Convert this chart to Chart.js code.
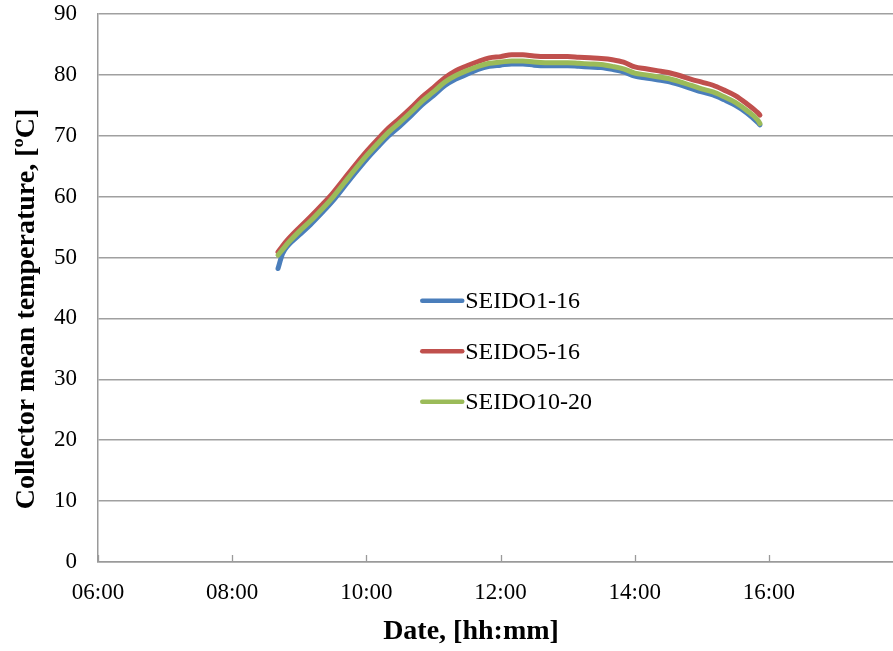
<!DOCTYPE html>
<html>
<head>
<meta charset="utf-8">
<script src="https://cdn.jsdelivr.net/npm/chart.js@4/dist/chart.umd.min.js"></script>
<style>
  html, body { margin: 0; padding: 0; background: #ffffff; }
  #wrap { width: 893px; height: 651px; }
</style>
</head>
<body>
<div id="wrap"><canvas id="c" width="893" height="651"></canvas></div>
<script>
// ---- data ----
const times = ['08:41','08:45','08:50','09:00','09:10','09:20','09:30','09:40','09:50','10:00',
  '10:10','10:20','10:30','10:40','10:50','11:00','11:10','11:20','11:30','11:40','11:50','12:00',
  '12:10','12:20','12:30','12:40','12:50','13:00','13:10','13:20','13:30','13:40','13:50','14:00',
  '14:10','14:20','14:30','14:40','14:50','15:00','15:10','15:20','15:30','15:40','15:50','15:52'];

const seido1_16 = [48.2,50.6,52.0,53.7,55.4,57.3,59.3,61.6,63.9,66.1,
  68.1,70.0,71.6,73.3,75.1,76.6,78.2,79.3,80.1,80.9,81.4,81.6,
  81.8,81.8,81.6,81.5,81.5,81.5,81.4,81.3,81.2,80.9,80.5,79.8,
  79.5,79.2,78.9,78.4,77.8,77.2,76.7,75.9,75.0,73.8,72.2,71.8];

const seido5_16 = [50.9,51.9,53.0,54.9,56.7,58.6,60.6,62.9,65.2,67.4,
  69.4,71.3,72.9,74.6,76.4,77.9,79.5,80.7,81.5,82.2,82.8,83.0,
  83.3,83.3,83.1,83.0,83.0,83.0,82.9,82.8,82.7,82.5,82.1,81.3,
  81.0,80.7,80.4,79.9,79.3,78.8,78.3,77.5,76.6,75.3,73.8,73.4];

const seido10_20 = [50.4,51.3,52.4,54.3,56.0,57.9,59.9,62.2,64.5,66.7,
  68.7,70.6,72.2,73.9,75.7,77.2,78.8,79.9,80.7,81.4,81.9,82.1,
  82.3,82.3,82.1,82.0,82.0,82.0,81.9,81.8,81.7,81.4,81.0,80.3,
  80.0,79.7,79.4,78.9,78.3,77.7,77.2,76.4,75.5,74.2,72.6,72.0];

const seriesNames = ['SEIDO1-16', 'SEIDO5-16', 'SEIDO10-20'];
const xTickLabels = ['06:00','08:00','10:00','12:00','14:00','16:00'];
const yTicks = [0,10,20,30,40,50,60,70,80,90];

// ---- helpers ----
function toHours(s) { const p = s.split(':'); return +p[0] + (+p[1]) / 60; }
function toLabel(h) { const hh = Math.floor(h), mm = Math.round((h - hh) * 60); return String(hh).padStart(2,'0') + ':' + String(mm).padStart(2,'0'); }
function pts(vals) { return times.map((t, i) => ({ x: toHours(t), y: vals[i] })); }

const SERIF = "'Liberation Serif', 'Times New Roman', serif";
const colors = ['#4a7ebb', '#c0504d', '#9bbb59'];

// inward tick marks on the x axis
const innerTicks = {
  id: 'innerTicks',
  afterDraw(chart) {
    const sx = chart.scales.x, ctx = chart.ctx, y0 = chart.chartArea.bottom;
    ctx.save();
    ctx.strokeStyle = '#9a9a9a';
    ctx.lineWidth = 1.3;
    sx.ticks.forEach(t => {
      const px = Math.round(sx.getPixelForValue(t.value)) + 0.5;
      ctx.beginPath(); ctx.moveTo(px, y0); ctx.lineTo(px, y0 - 7); ctx.stroke();
    });
    ctx.restore();
  }
};

// legend drawn inside the plot area
const innerLegend = {
  id: 'innerLegend',
  afterDraw(chart) {
    const ctx = chart.ctx, sx = chart.scales.x, sy = chart.scales.y;
    const x0 = sx.getPixelForValue(toHours('10:50'));
    let y = sy.getPixelForValue(42.9);
    const step = sy.getPixelForValue(0) - sy.getPixelForValue(8.3);
    ctx.save();
    ctx.font = '24px ' + SERIF;
    ctx.textBaseline = 'middle';
    ctx.fillStyle = '#000';
    chart.data.datasets.forEach((ds, i) => {
      ctx.strokeStyle = ds.borderColor;
      ctx.lineWidth = 4.5;
      ctx.lineCap = 'round';
      ctx.beginPath(); ctx.moveTo(x0, y); ctx.lineTo(x0 + 40, y); ctx.stroke();
      ctx.fillText(ds.label, x0 + 43, y + 1);
      y += step;
    });
    ctx.restore();
  }
};

new Chart(document.getElementById('c'), {
  type: 'line',
  data: {
    datasets: [
      { label: seriesNames[0], data: pts(seido1_16), borderColor: colors[0], order: 3 },
      { label: seriesNames[1], data: pts(seido5_16), borderColor: colors[1], order: 2 },
      { label: seriesNames[2], data: pts(seido10_20), borderColor: colors[2], order: 1 }
    ]
  },
  options: {
    responsive: false,
    animation: false,
    devicePixelRatio: 1,
    layout: { padding: { top: 14, right: 0, left: 0, bottom: 0 } },
    elements: {
      point: { radius: 0 },
      line: { borderWidth: 5, cubicInterpolationMode: 'monotone', borderCapStyle: 'round', borderJoinStyle: 'round' }
    },
    plugins: { legend: { display: false }, tooltip: { enabled: false } },
    scales: {
      x: {
        type: 'linear',
        min: 6,
        max: 17.85,
        afterBuildTicks(scale) { scale.ticks = xTickLabels.map(s => ({ value: toHours(s) })); },
        afterFit(scale) { scale.height = 89; },
        ticks: {
          callback: (v) => toLabel(v),
          font: { family: SERIF, size: 23 },
          color: '#000',
          padding: 17,
          maxRotation: 0,
          autoSkip: false
        },
        grid: { display: true, drawOnChartArea: false, drawTicks: false },
        border: { display: true, color: '#9a9a9a', width: 1.5 },
        title: {
          display: true,
          text: 'Date, [hh:mm]       ',
          font: { family: SERIF, size: 28, weight: 'bold' },
          color: '#000',
          padding: { top: 0, bottom: 2 }
        }
      },
      y: {
        min: 0,
        max: 90,
        afterBuildTicks(scale) { scale.ticks = yTicks.map(v => ({ value: v })); },
        afterFit(scale) { scale.width = 98; },
        ticks: {
          font: { family: SERIF, size: 23 },
          color: '#000',
          padding: 0
        },
        grid: { color: '#a0a0a0', lineWidth: 1.5, drawTicks: true, tickLength: 21, tickColor: 'rgba(0,0,0,0)' },
        border: { display: true, color: '#9a9a9a', width: 1.5 },
        title: {
          display: true,
          text: 'Collector mean temperature, [ºC]      ',
          font: { family: SERIF, size: 28, weight: 'bold' },
          color: '#000',
          padding: { top: 10, bottom: 0 }
        }
      }
    }
  },
  plugins: [innerTicks, innerLegend]
});
</script>
</body>
</html>
